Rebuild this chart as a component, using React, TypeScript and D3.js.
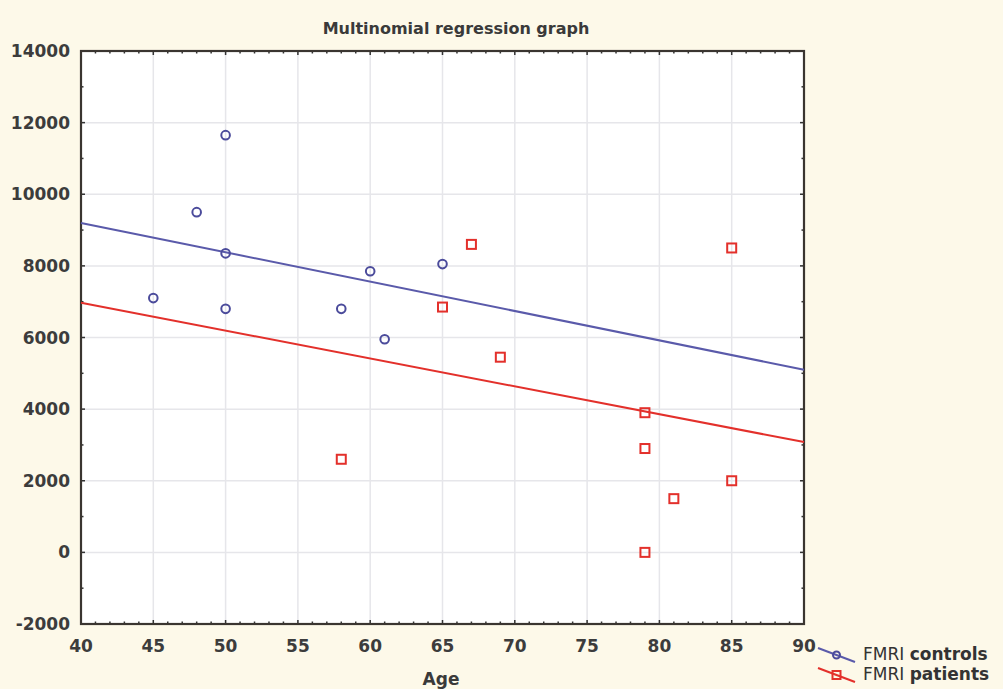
import React, { useEffect, useRef } from 'react';
import * as d3 from 'd3';

// controls
const controlAge = [45, 48, 50, 50, 50, 58, 60, 61, 65];
const controlVal = [7100, 9500, 11650, 8350, 6800, 6800, 7850, 5950, 8050];
// patients
const patientAge = [58, 65, 67, 69, 79, 79, 79, 81, 85, 85];
const patientVal = [2600, 6850, 8600, 5450, 3900, 2900, 0, 1500, 8500, 2000];

// fitted lines, value at age 40 and 90
const fitAges = [40, 90];
const controlFit = [9200, 5100];
const patientFit = [6970, 3080];

const xTicks = [40, 45, 50, 55, 60, 65, 70, 75, 80, 85, 90];
const yTicks = [-2000, 0, 2000, 4000, 6000, 8000, 10000, 12000, 14000];

const W = 1003, H = 689;
const M = { left: 81, right: 199, top: 51, bottom: 65 };
const BLUE = '#4b4b9b';
const BLUE_LINE = '#5a5aaa';
const RED = '#e3302b';
const FONT = 'Verdana, "DejaVu Sans", sans-serif';

const App: React.FC = () => {
  const ref = useRef<SVGSVGElement | null>(null);

  useEffect(() => {
    document.body.style.margin = '0';
    const svg = d3.select(ref.current);
    svg.selectAll('*').remove();

    const x = d3.scaleLinear().domain([40, 90]).range([M.left, W - M.right]);
    const y = d3.scaleLinear().domain([-2000, 14000]).range([H - M.bottom, M.top]);

    svg.append('rect').attr('width', W).attr('height', H).attr('fill', '#fdf9e9');
    svg.append('rect')
      .attr('x', M.left).attr('y', M.top)
      .attr('width', x(90) - x(40)).attr('height', y(-2000) - y(14000))
      .attr('fill', '#ffffff');

    // grid
    const grid = svg.append('g').attr('stroke', '#e6e6ea').attr('stroke-width', 1.5);
    xTicks.slice(1, -1).forEach(t => {
      grid.append('line').attr('x1', x(t)).attr('x2', x(t)).attr('y1', y(14000)).attr('y2', y(-2000));
    });
    yTicks.slice(1, -1).forEach(t => {
      grid.append('line').attr('x1', x(40)).attr('x2', x(90)).attr('y1', y(t)).attr('y2', y(t));
    });

    // minor ticks
    const tk = svg.append('g').attr('stroke', '#333').attr('stroke-width', 1.5);
    d3.range(40, 91, 1).forEach(t => {
      const len = t % 5 === 0 ? 4 : 2.5;
      tk.append('line').attr('x1', x(t)).attr('x2', x(t)).attr('y1', y(-2000)).attr('y2', y(-2000) - len);
      tk.append('line').attr('x1', x(t)).attr('x2', x(t)).attr('y1', y(14000)).attr('y2', y(14000) + len);
    });
    d3.range(-2000, 14001, 1000).forEach(t => {
      const len = t % 2000 === 0 ? 4 : 2.5;
      tk.append('line').attr('x1', x(40)).attr('x2', x(40) + len).attr('y1', y(t)).attr('y2', y(t));
      tk.append('line').attr('x1', x(90)).attr('x2', x(90) - len).attr('y1', y(t)).attr('y2', y(t));
    });

    // frame
    svg.append('rect')
      .attr('x', M.left).attr('y', M.top)
      .attr('width', x(90) - x(40)).attr('height', y(-2000) - y(14000))
      .attr('fill', 'none').attr('stroke', '#3a3530').attr('stroke-width', 2.2);

    // tick labels
    svg.append('g').selectAll('text').data(xTicks).join('text')
      .attr('x', d => x(d)).attr('y', y(-2000) + 28)
      .attr('text-anchor', 'middle')
      .attr('font-family', FONT).attr('font-size', 17).attr('font-weight', 'bold')
      .attr('fill', '#3c3c3c')
      .text(d => d);
    svg.append('g').selectAll('text').data(yTicks).join('text')
      .attr('x', x(40) - 11).attr('y', d => y(d) + 6)
      .attr('text-anchor', 'end')
      .attr('font-family', FONT).attr('font-size', 17).attr('font-weight', 'bold')
      .attr('fill', '#3c3c3c')
      .text(d => d);

    // title, axis title
    svg.append('text').attr('x', 456).attr('y', 34).attr('text-anchor', 'middle')
      .attr('font-family', FONT).attr('font-size', 16).attr('font-weight', 'bold').attr('fill', '#3a3a3a')
      .text('Multinomial regression graph');
    svg.append('text').attr('x', 441).attr('y', 685).attr('text-anchor', 'middle')
      .attr('font-family', FONT).attr('font-size', 17).attr('font-weight', 'bold').attr('fill', '#3a3a3a')
      .text('Age');

    // fitted lines
    const line = d3.line<number>().x((_, i) => x(fitAges[i])).y(d => y(d));
    svg.append('path').attr('d', line(controlFit)).attr('fill', 'none').attr('stroke', BLUE_LINE).attr('stroke-width', 2);
    svg.append('path').attr('d', line(patientFit)).attr('fill', 'none').attr('stroke', RED).attr('stroke-width', 2);

    // points
    svg.append('g').selectAll('circle').data(controlAge).join('circle')
      .attr('cx', d => x(d)).attr('cy', (_, i) => y(controlVal[i])).attr('r', 4.3)
      .attr('fill', 'none').attr('stroke', BLUE).attr('stroke-width', 2);
    svg.append('g').selectAll('rect').data(patientAge).join('rect')
      .attr('x', d => x(d) - 4.5).attr('y', (_, i) => y(patientVal[i]) - 4.5)
      .attr('width', 9).attr('height', 9)
      .attr('fill', 'none').attr('stroke', RED).attr('stroke-width', 2);

    // legend
    const lg = svg.append('g').attr('transform', 'translate(818,648)');
    const items = [
      { label: 'controls', color: BLUE_LINE, mark: 'circle' },
      { label: 'patients', color: RED, mark: 'square' },
    ];
    items.forEach((it, i) => {
      const g = lg.append('g').attr('transform', `translate(0,${i * 20})`);
      g.append('line').attr('x1', 0).attr('y1', 0).attr('x2', 37).attr('y2', 14)
        .attr('stroke', it.color).attr('stroke-width', 2);
      if (it.mark === 'circle') {
        g.append('circle').attr('cx', 18.5).attr('cy', 7).attr('r', 3.5)
          .attr('fill', 'none').attr('stroke', BLUE).attr('stroke-width', 2);
      } else {
        g.append('rect').attr('x', 14.5).attr('y', 3).attr('width', 8).attr('height', 8)
          .attr('fill', 'none').attr('stroke', RED).attr('stroke-width', 2);
      }
      const t = g.append('text').attr('x', 45).attr('y', 12)
        .attr('font-family', FONT).attr('font-size', 17).attr('fill', '#333');
      t.append('tspan').text('FMRI ');
      t.append('tspan').attr('font-weight', 'bold').text(it.label);
    });

    return () => { svg.selectAll('*').remove(); };
  }, []);

  return <svg ref={ref} width={W} height={H} style={{ display: 'block' }} />;
};

export default App;
